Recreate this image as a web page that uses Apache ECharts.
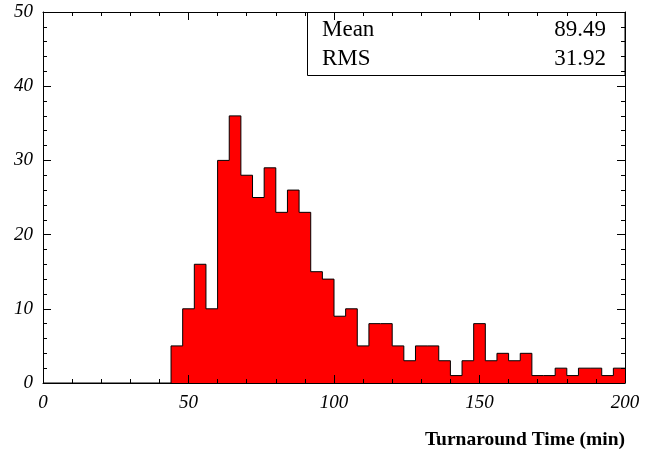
<!DOCTYPE html>
<html>
<head>
<meta charset="utf-8">
<script src="https://cdn.jsdelivr.net/npm/echarts@6/dist/echarts.min.js"></script>
<style>html,body{margin:0;padding:0;background:#fff;}#main{width:656px;height:453px;}</style>
</head>
<body>
<div id="main"></div>
<script>
// Histogram bin left edges (min) and counts
var binEdges = [44,48,52,56,60,64,68,72,76,80,84,88,92,96,100,104,108,112,116,120,124,128,132,136,140,144,148,152,156,160,164,168,172,176,180,184,188,192,196,200];
var counts =   [5,10,16,10,30,36,28,25,29,23,26,23,15,14,9,10,5,8,8,5,3,5,5,3,1,3,8,3,4,3,4,1,1,2,1,2,2,1,2];
var xTicks = [0,50,100,150,200];
var yTicks = [0,10,20,30,40,50];
var statLabels = ['Mean','RMS'];
var statValues = ['89.49','31.92'];
var xTitle = 'Turnaround Time (min)';

var stepData = [[0,0]];
for (var i = 0; i < counts.length; i++) stepData.push([binEdges[i], counts[i]]);
stepData.push([binEdges[binEdges.length-1], counts[counts.length-1]]);

var FONT = '"Liberation Serif", "DejaVu Serif", serif';
var chart = echarts.init(document.getElementById('main'), null, {renderer:'canvas'});
var labelStyle = {fontFamily: FONT, fontStyle: 'italic', fontSize: 19, color: '#000'};
function mkX(pos, showLabel){
  return {
    type:'value', position: pos, min: xTicks[0], max: xTicks[xTicks.length-1], interval: 50, z: 5,
    axisLine:{show:true, onZero:false, lineStyle:{color:'#000', width:1}},
    axisTick:{show:true, inside:true, length:8, lineStyle:{color:'#000'}},
    minorTick:{show:true, splitNumber:5, length:4, lineStyle:{color:'#000'}},
    axisLabel: showLabel ? Object.assign({show:true, margin:10}, labelStyle) : {show:false},
    splitLine:{show:false}
  };
}
function mkY(pos, showLabel){
  return {
    type:'value', position: pos, min: yTicks[0], max: yTicks[yTicks.length-1], interval: 10, z: 5,
    axisLine:{show:true, onZero:false, lineStyle:{color:'#000', width:1}},
    axisTick:{show:true, inside:true, length:8, lineStyle:{color:'#000'}},
    minorTick:{show:true, splitNumber:5, length:4, lineStyle:{color:'#000'}},
    axisLabel: showLabel ? Object.assign({show:true, margin:10}, labelStyle) : {show:false},
    splitLine:{show:false}
  };
}
chart.setOption({
  animation:false,
  backgroundColor:'#fff',
  grid:{left:43, right:31, top:12, bottom:70, containLabel:false},
  xAxis:[mkX('bottom', true), mkX('top', false)],
  yAxis:[mkY('left', true), mkY('right', false)],
  series:[{
    type:'line', step:'end', data: stepData, xAxisIndex:0, yAxisIndex:0,
    symbol:'none', z:2,
    lineStyle:{color:'#000', width:1},
    areaStyle:{color:'#ff0000', opacity:1, origin:'start'}
  }],
  graphic:[
    {type:'rect', z:1, shape:{x:307.5, y:12.5, width:317.5, height:63}, style:{fill:'#fff', stroke:'#000', lineWidth:1}},
    {type:'text', z:10, style:{x:322, y:41, text:statLabels[0], font:'23px '+FONT, fill:'#000', textVerticalAlign:'bottom'}},
    {type:'text', z:10, style:{x:606, y:41, text:statValues[0], font:'23px '+FONT, fill:'#000', textAlign:'right', textVerticalAlign:'bottom'}},
    {type:'text', z:10, style:{x:322, y:70, text:statLabels[1], font:'23px '+FONT, fill:'#000', textVerticalAlign:'bottom'}},
    {type:'text', z:10, style:{x:606, y:70, text:statValues[1], font:'23px '+FONT, fill:'#000', textAlign:'right', textVerticalAlign:'bottom'}},
    {type:'text', z:10, style:{x:625, y:450, text:xTitle, font:'bold 19.5px '+FONT, fill:'#000', textAlign:'right', textVerticalAlign:'bottom'}}
  ]
});
</script>
</body>
</html>
